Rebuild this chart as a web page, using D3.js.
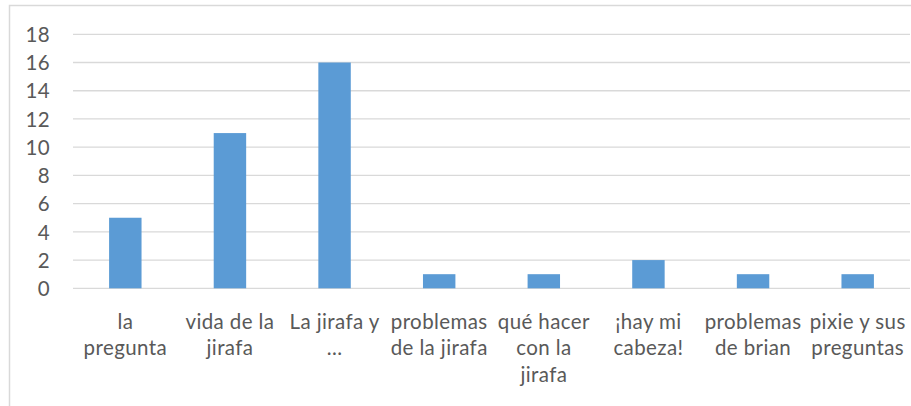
<!DOCTYPE html>
<html>
<head>
<meta charset="utf-8">
<script src="https://cdn.jsdelivr.net/npm/d3@7/dist/d3.min.js"></script>
<style>
  html, body { margin: 0; padding: 0; background: #fff; }
  svg { display: block; }
  text { font-family: Lato, "Open Sans", sans-serif; fill: #595959; }
</style>
</head>
<body>
<svg id="chart" width="911" height="406"></svg>
<script>
// Category labels (line breaks as shown under each bar)
const categories = [
  "la\npregunta",
  "vida de la\njirafa",
  "La jirafa y\n...",
  "problemas\nde la jirafa",
  "qué hacer\ncon la\njirafa",
  "¡hay mi\ncabeza!",
  "problemas\nde brian",
  "pixie y sus\npreguntas"
];
const values = [5, 11, 16, 1, 1, 2, 1, 1];
const yTicks = [0, 2, 4, 6, 8, 10, 12, 14, 16, 18];

const svg = d3.select("#chart");
const W = 911, H = 406;
const FONT = "Lato, 'Open Sans', sans-serif";
const FS = 20.5;

// Outer chart frame
svg.append("rect")
  .attr("x", 9.5).attr("y", 5.5)
  .attr("width", W + 10).attr("height", H + 10)
  .attr("fill", "none").attr("stroke", "#d9d9d9").attr("stroke-width", 1.5);

const plot = { left: 73, right: 910, top: 34.3, bottom: 288.3 };

const x = d3.scaleBand()
  .domain(d3.range(categories.length))
  .range([plot.left, plot.right])
  .paddingInner(0.69).paddingOuter(0.345);

const y = d3.scaleLinear().domain([0, 18]).range([plot.bottom, plot.top]);

// Horizontal gridlines
svg.append("g")
  .selectAll("line")
  .data(yTicks)
  .join("line")
  .attr("x1", plot.left).attr("x2", plot.right)
  .attr("y1", d => y(d)).attr("y2", d => y(d))
  .attr("stroke", "#d9d9d9").attr("stroke-width", 1.3);

// Bars
svg.append("g")
  .selectAll("rect")
  .data(values)
  .join("rect")
  .attr("x", (d, i) => x(i))
  .attr("width", x.bandwidth())
  .attr("y", d => y(d))
  .attr("height", d => y(0) - y(d))
  .attr("fill", "#5b9bd5");

// Y axis labels
const yAxis = d3.axisLeft(y).tickValues(yTicks).tickSize(0).tickPadding(23);
const ya = svg.append("g").attr("transform", `translate(${plot.left},0)`).call(yAxis);
ya.select(".domain").remove();
ya.selectAll("text")
  .attr("font-size", FS).attr("font-family", FONT)
  .attr("letter-spacing", 0.4)
  .attr("fill", "#595959").attr("dy", "0.35em");

// X axis category labels (multi-line)
const xAxis = d3.axisBottom(x).tickSize(0).tickFormat(i => categories[i]);
const xa = svg.append("g").attr("transform", `translate(0,${plot.bottom})`).call(xAxis);
xa.select(".domain").remove();
xa.selectAll(".tick text").each(function(i) {
  const t = d3.select(this);
  const lines = categories[i].split("\n");
  t.text(null)
    .attr("font-size", FS).attr("font-family", FONT)
    .attr("letter-spacing", 0.4)
    .attr("fill", "#595959").attr("y", 0).attr("dy", null);
  lines.forEach((ln, k) => {
    t.append("tspan")
      .attr("x", 0)
      .attr("y", 33.4 + k * 26.5)
      .attr("dy", "0.35em")
      .text(ln);
  });
});
</script>
</body>
</html>
